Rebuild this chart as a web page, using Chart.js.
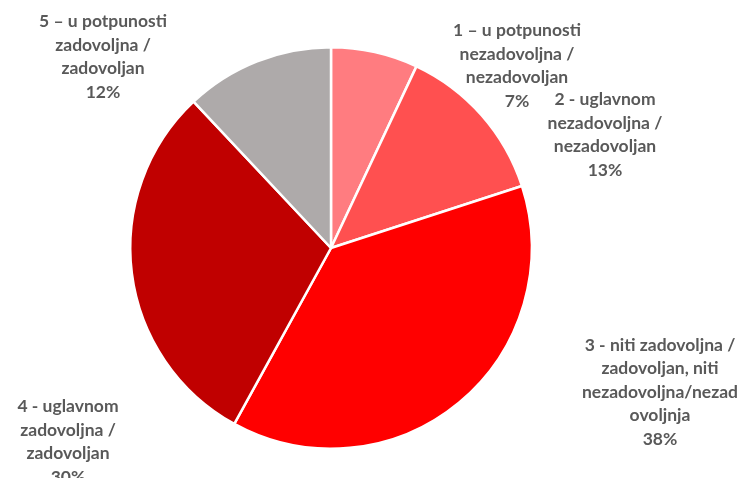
<!DOCTYPE html>
<html>
<head>
<meta charset="utf-8">
<script src="https://cdn.jsdelivr.net/npm/chart.js@4"></script>
<style>
  html, body { margin: 0; padding: 0; background: #fff; }
  #wrap { width: 745px; height: 478px; }
</style>
</head>
<body>
<div id="wrap"><canvas id="pie"></canvas></div>
<script>
// Data
const categories = [
  ['1 – u potpunosti', 'nezadovoljna /', 'nezadovoljan'],
  ['2 - uglavnom', 'nezadovoljna /', 'nezadovoljan'],
  ['3 - niti zadovoljna /', 'zadovoljan, niti', 'nezadovoljna/nezad', 'ovoljnja'],
  ['4 - uglavnom', 'zadovoljna /', 'zadovoljan'],
  ['5 – u potpunosti', 'zadovoljna /', 'zadovoljan']
];
const shares = [7, 13, 38, 30, 12];
const colors = ['#FF7C80', '#FF5050', '#FF0000', '#C00000', '#AEAAAA'];

// label block centres, relative to the pie centre
const labelOffsets = [[186, -182], [274, -113], [329, 144], [-263, 194], [-228, -191]];

const outsideLabels = {
  id: 'outsideLabels',
  afterDraw(chart) {
    const ctx = chart.ctx;
    const arc = chart.getDatasetMeta(0).data[0];
    const cx = arc.x, cy = arc.y;
    const lh = 23.5;
    ctx.save();
    ctx.font = 'bold 17.5px Lato, "Noto Sans", sans-serif';
    ctx.fillStyle = '#595959';
    ctx.textAlign = 'center';
    ctx.textBaseline = 'middle';
    chart.data.datasets[0].data.forEach((v, i) => {
      const lines = categories[i].concat([v + '%']);
      const x = cx + labelOffsets[i][0];
      const y0 = cy + labelOffsets[i][1] - (lines.length - 1) * lh / 2;
      lines.forEach((t, k) => ctx.fillText(t, x, y0 + k * lh));
    });
    ctx.restore();
  }
};

const config = {
  type: 'pie',
  data: {
    labels: categories.map(c => c.join(' ')),
    datasets: [{
      data: shares,
      backgroundColor: colors,
      borderColor: '#ffffff',
      borderWidth: 2.5,
      hoverOffset: 0
    }]
  },
  options: {
    responsive: true,
    maintainAspectRatio: false,
    animation: false,
    layout: { padding: { top: 45, bottom: 27, left: 129, right: 212 } },
    plugins: {
      legend: { display: false },
      tooltip: { enabled: false }
    }
  },
  plugins: [outsideLabels]
};

new Chart(document.getElementById('pie'), config);
</script>
</body>
</html>
